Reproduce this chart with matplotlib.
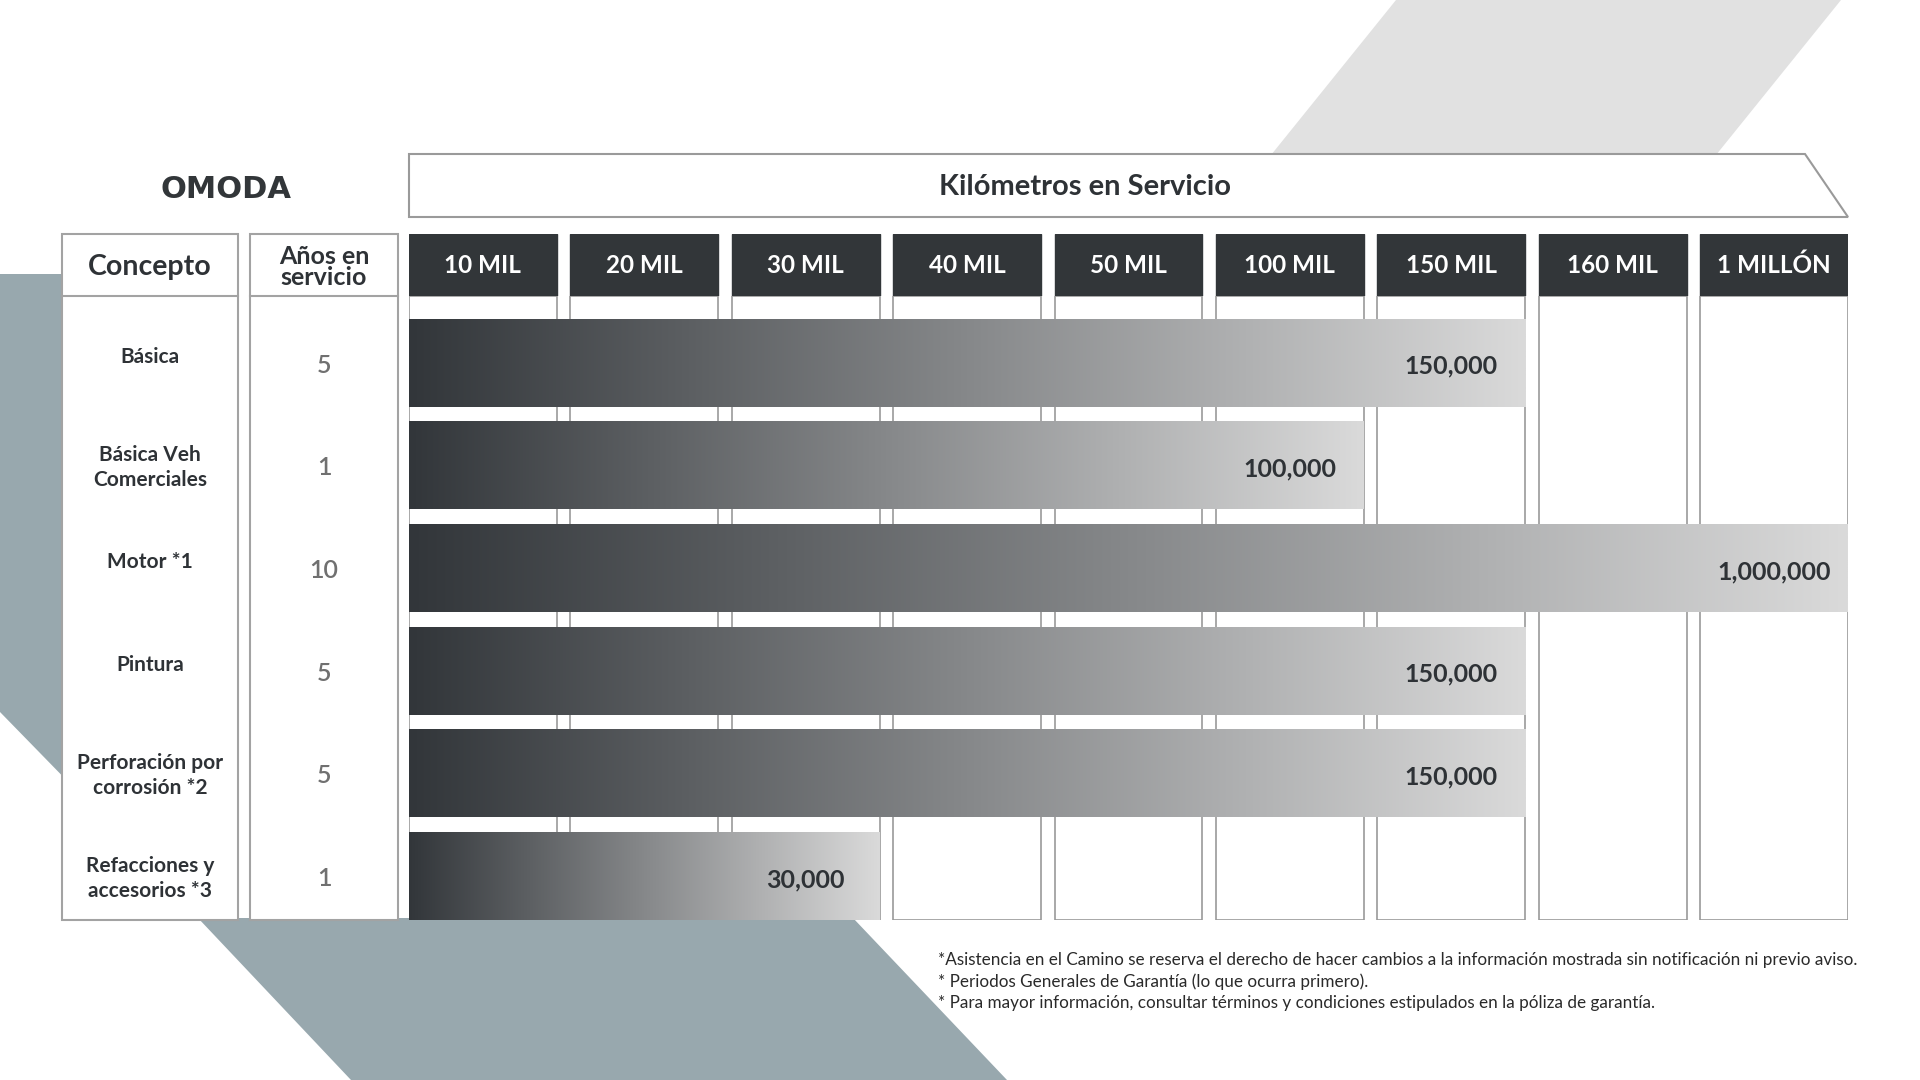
import numpy as np
import matplotlib
matplotlib.use('Agg')
import matplotlib.pyplot as plt
from matplotlib.patches import Rectangle, Polygon

plt.rcParams['font.family'] = ['Lato', 'DejaVu Sans']

# ---------------- data ----------------
km_columns = ['10 MIL', '20 MIL', '30 MIL', '40 MIL', '50 MIL',
              '100 MIL', '150 MIL', '160 MIL', '1 MILLÓN']
km_values = [10000, 20000, 30000, 40000, 50000, 100000, 150000, 160000, 1000000]
concepts = ['Básica', 'Básica Veh\nComerciales', 'Motor *1', 'Pintura',
            'Perforación por\ncorrosión *2', 'Refacciones y\naccesorios *3']
years = [5, 1, 10, 5, 5, 1]
coverage_km = [150000, 100000, 1000000, 150000, 150000, 30000]
title_km = 'Kilómetros en Servicio'
head_concept = 'Concepto'
head_years = 'Años en\nservicio'
brand = 'OMODA'
footnotes = [
    '*Asistencia en el Camino se reserva el derecho de hacer cambios a la información mostrada sin notificación ni previo aviso.',
    '* Periodos Generales de Garantía (lo que ocurra primero).',
    '* Para mayor información, consultar términos y condiciones estipulados en la póliza de garantía.',
]

# ---------------- style ----------------
DARK = '#323639'
TEXT = '#2e3236'
EDGE = '#a3a3a3'
BLUEGREY = '#98a8ae'
LIGHTGREY = '#e1e1e1'
GRAD_L = np.array([0x32, 0x36, 0x3a]) / 255
GRAD_R = np.array([0xda, 0xda, 0xda]) / 255

W, H = 1920, 1080
fig = plt.figure(figsize=(19.2, 10.8), dpi=100)
fig.patch.set_facecolor('white')


def fig_rect(x0, y0, x1, y1):
    return [x0 / W, 1 - y1 / H, (x1 - x0) / W, (y1 - y0) / H]


bg = fig.add_axes([0, 0, 1, 1])
bg.set_xlim(0, W)
bg.set_ylim(H, 0)
bg.axis('off')

# decorative shapes
bg.add_patch(Polygon([(1396, 0), (1841, 0), (1712, 160), (1267, 160)],
                     closed=True, fc=LIGHTGREY, ec='none', zorder=1))
bg.add_patch(Polygon([(0, 274), (80, 274), (80, 794), (0, 712)],
                     closed=True, fc=BLUEGREY, ec='none', zorder=1))
bg.add_patch(Polygon([(198, 918), (853, 918), (1007, 1080), (351, 1080)],
                     closed=True, fc=BLUEGREY, ec='none', zorder=1))

# logo
bg.text(226, 190, brand, ha='center', va='center', fontsize=22,
        fontweight='bold', family=['DejaVu Sans'], color=DARK, zorder=5)

# km title box
bg.add_patch(Polygon([(409, 154), (1805, 154), (1848, 217), (409, 217)],
                     closed=True, fc='white', ec='#9a9a9a', lw=1.5, zorder=3))
bg.text(1085, 187, title_km, ha='center', va='center', fontsize=21,
        fontweight='bold', color=TEXT, zorder=5)

# Concepto / Años boxes
for (x0, x1, lab) in [(62, 238, head_concept), (250, 398, head_years)]:
    bg.add_patch(Rectangle((x0, 234), x1 - x0, 686, fc='white', ec=EDGE,
                           lw=1.5, zorder=3))
    bg.plot([x0, x1], [296, 296], color=EDGE, lw=1.5, zorder=4)
bg.text(150, 267, head_concept, ha='center', va='center', fontsize=20.5,
        fontweight='bold', color=TEXT, zorder=5)
bg.text(324, 267, head_years, ha='center', va='center', fontsize=18,
        fontweight='bold', color=TEXT, linespacing=0.85, zorder=5)

# footnotes
for k, line in enumerate(footnotes):
    bg.text(938, 960 + k * 21.5, line, ha='left', va='center', fontsize=12.3,
            color='#2a2a2a', zorder=5)

# ---------------- column geometry ----------------
ncols = len(km_columns)
colw = 148 / 161.6
xmax = (ncols - 1) + colw
nrows = len(concepts)
pitch_px = 102.6
y_top = -67 / pitch_px
y_bot = (nrows - 1) + 43.5 / pitch_px
bar_h = 87 / pitch_px

# header cells
hx = fig.add_axes(fig_rect(409, 234, 1848, 296))
hx.set_xlim(0, xmax)
hx.set_ylim(0, 1)
hx.axis('off')
for i, lab in enumerate(km_columns):
    hx.add_patch(Rectangle((i, 0), colw, 1, fc=DARK, ec=DARK, lw=1))
    hx.text(i + colw / 2, 0.5, lab, ha='center', va='center', color='white',
            fontsize=17.5, fontweight='bold')

# bars area
ax = fig.add_axes(fig_rect(409, 296, 1848, 920))
for i in range(ncols):
    ax.add_patch(Rectangle((i, 0), colw, 1, transform=ax.get_xaxis_transform(),
                           fc='white', ec='#9a9a9a', lw=1.2, zorder=1))

grad = np.linspace(0, 1, 512)[None, :, None]
grad_img = GRAD_L[None, None, :] * (1 - grad) + GRAD_R[None, None, :] * grad
for r, v in enumerate(coverage_km):
    idx = km_values.index(v)
    end = idx + colw
    ax.imshow(grad_img, extent=(0, end, r + bar_h / 2, r - bar_h / 2),
              aspect='auto', interpolation='bilinear', zorder=3)
    ax.text(idx + colw / 2, r + 0.03, f'{v:,}', ha='center', va='center',
            fontsize=18, fontweight='bold', color=TEXT, zorder=4)
ax.set_xlim(0, xmax)
ax.set_ylim(y_bot, y_top)
ax.axis('off')

# left labels
lx = fig.add_axes(fig_rect(62, 296, 398, 920))
lx.set_xlim(62, 398)
lx.set_ylim(y_bot, y_top)
lx.axis('off')
for r, (c, yv) in enumerate(zip(concepts, years)):
    dy = 0.02 if '\n' in c else -0.06
    lx.text(150, r + dy, c, ha='center', va='center', fontsize=15,
            fontweight='bold', color=TEXT, linespacing=1.3)
    lx.text(324, r + 0.02, str(yv), ha='center', va='center', fontsize=18,
            color='#707070', fontweight='semibold')

fig.savefig('out.png', dpi=100, facecolor='white')
